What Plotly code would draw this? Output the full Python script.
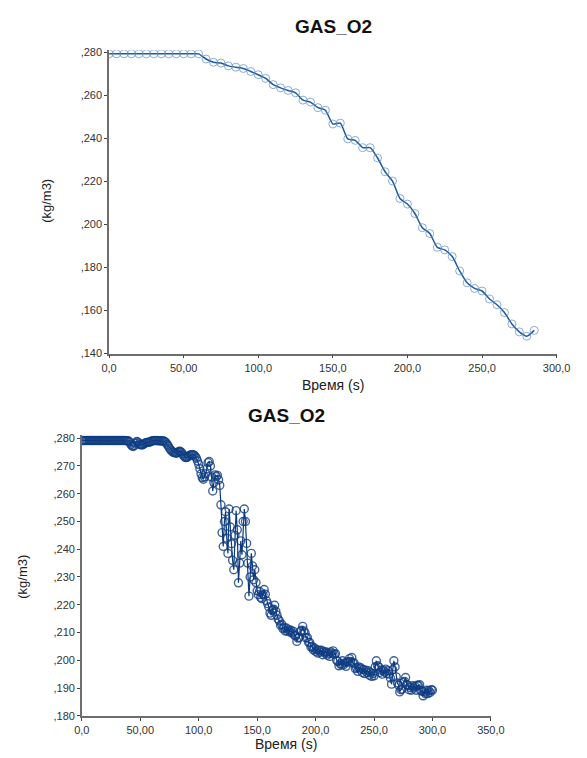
import plotly.graph_objects as go

# ---- upper panel: GAS_O2 density, sampled every 5 s ----
t_upper = list(range(0, 290, 5))
o2_upper = [
    0.2793, 0.2793, 0.2793, 0.2793, 0.2793, 0.2793, 0.2793, 0.2793, 0.2793, 0.2793,
    0.2793, 0.2793, 0.2793, 0.2769, 0.2754, 0.2750, 0.2737, 0.2731, 0.2725, 0.2711,
    0.2696, 0.2679, 0.2650, 0.2635, 0.2623, 0.2612, 0.2578, 0.2569, 0.2543, 0.2531,
    0.2467, 0.2471, 0.2398, 0.2391, 0.2357, 0.2357, 0.2309, 0.2245, 0.2202, 0.2121,
    0.2095, 0.2051, 0.1985, 0.1958, 0.1894, 0.1882, 0.1851, 0.1784, 0.1729, 0.1703,
    0.1691, 0.1654, 0.1627, 0.1591, 0.1538, 0.1501, 0.1481, 0.1508,
]

# ---- lower panel: GAS_O2 density, sampled every 1 s ----
t_lower = list(range(0, 301))
o2_lower = [
    0.2792, 0.2792, 0.2792, 0.2792, 0.2792, 0.2792, 0.2792, 0.2792, 0.2792, 0.2792,
    0.2792, 0.2792, 0.2792, 0.2792, 0.2792, 0.2792, 0.2792, 0.2792, 0.2792, 0.2792,
    0.2792, 0.2792, 0.2792, 0.2792, 0.2792, 0.2792, 0.2792, 0.2792, 0.2792, 0.2792,
    0.2792, 0.2792, 0.2792, 0.2792, 0.2792, 0.2792, 0.2792, 0.2792, 0.2791, 0.2791,
    0.2790, 0.2786, 0.2778, 0.2772, 0.2770, 0.2774, 0.2782, 0.2788, 0.2786, 0.2780,
    0.2777, 0.2776, 0.2776, 0.2779, 0.2782, 0.2784, 0.2785, 0.2786, 0.2786, 0.2788,
    0.2790, 0.2791, 0.2792, 0.2792, 0.2791, 0.2792, 0.2791, 0.2790, 0.2791, 0.2790,
    0.2790, 0.2788, 0.2784, 0.2778, 0.2772, 0.2764, 0.2758, 0.2754, 0.2750, 0.2748,
    0.2747, 0.2746, 0.2749, 0.2752, 0.2753, 0.2750, 0.2744, 0.2738, 0.2733, 0.2730,
    0.2731, 0.2734, 0.2737, 0.2740, 0.2741, 0.2741, 0.2739, 0.2735, 0.2728, 0.2718,
    0.2706, 0.2690, 0.2672, 0.2658, 0.2652, 0.2660, 0.2672, 0.2690, 0.2712, 0.2716,
    0.2700, 0.2660, 0.2610, 0.2640, 0.2668, 0.2662, 0.2666, 0.2650, 0.2630, 0.2560,
    0.2460, 0.2410, 0.2500, 0.2535, 0.2440, 0.2385, 0.2545, 0.2480, 0.2420, 0.2360,
    0.2326, 0.2450, 0.2539, 0.2470, 0.2279, 0.2350, 0.2430, 0.2380, 0.2500, 0.2545,
    0.2500, 0.2421, 0.2350, 0.2231, 0.2300, 0.2385, 0.2340, 0.2290, 0.2326, 0.2280,
    0.2250, 0.2236, 0.2248, 0.2226, 0.2222, 0.2236, 0.2255, 0.2238, 0.2214, 0.2204,
    0.2192, 0.2170, 0.2162, 0.2180, 0.2184, 0.2198, 0.2176, 0.2162, 0.2148, 0.2142,
    0.2126, 0.2130, 0.2114, 0.2118, 0.2106, 0.2116, 0.2104, 0.2110, 0.2102, 0.2108,
    0.2098, 0.2104, 0.2090, 0.2088, 0.2068, 0.2080, 0.2082, 0.2104, 0.2108, 0.2122,
    0.2106, 0.2098, 0.2080, 0.2082, 0.2064, 0.2064, 0.2048, 0.2050, 0.2038, 0.2044,
    0.2032, 0.2038, 0.2026, 0.2036, 0.2030, 0.2036, 0.2020, 0.2032, 0.2026, 0.2030,
    0.2018, 0.2024, 0.2014, 0.2030, 0.2024, 0.2034, 0.2022, 0.2024, 0.2000, 0.1996,
    0.1980, 0.1988, 0.1984, 0.1998, 0.1984, 0.1990, 0.1978, 0.1994, 0.1994, 0.2006,
    0.1996, 0.2010, 0.1990, 0.1990, 0.1970, 0.1974, 0.1960, 0.1976, 0.1968, 0.1972,
    0.1956, 0.1966, 0.1952, 0.1964, 0.1956, 0.1962, 0.1946, 0.1956, 0.1942, 0.1952,
    0.1944, 0.1976, 0.1998, 0.1980, 0.1976, 0.1956, 0.1964, 0.1950, 0.1964, 0.1958,
    0.1968, 0.1952, 0.1962, 0.1950, 0.1936, 0.1914, 0.1966, 0.1998, 0.1976, 0.1940,
    0.1918, 0.1910, 0.1886, 0.1894, 0.1896, 0.1920, 0.1924, 0.1938, 0.1912, 0.1910,
    0.1894, 0.1902, 0.1892, 0.1908, 0.1900, 0.1906, 0.1892, 0.1910, 0.1908, 0.1912,
    0.1890, 0.1890, 0.1872, 0.1886, 0.1880, 0.1892, 0.1880, 0.1890, 0.1884, 0.1894,
    0.1892,
]

# ---- tick labels (decimal comma, leading zero dropped) ----
x_ticks_upper = [0, 50, 100, 150, 200, 250, 300]
x_labels_upper = ["0,0", "50,00", "100,0", "150,0", "200,0", "250,0", "300,0"]
y_ticks_upper = [0.14, 0.16, 0.18, 0.20, 0.22, 0.24, 0.26, 0.28]
y_labels_upper = [",140", ",160", ",180", ",200", ",220", ",240", ",260", ",280"]

x_ticks_lower = [0, 50, 100, 150, 200, 250, 300, 350]
x_labels_lower = ["0,0", "50,00", "100,0", "150,0", "200,0", "250,0", "300,0", "350,0"]
y_ticks_lower = [0.18, 0.19, 0.20, 0.21, 0.22, 0.23, 0.24, 0.25, 0.26, 0.27, 0.28]
y_labels_lower = [",180", ",190", ",200", ",210", ",220", ",230", ",240", ",250",
                  ",260", ",270", ",280"]

TITLE = "GAS_O2"
X_TITLE = "Время (s)"
Y_TITLE = "(kg/m3)"

W, H = 587, 758
FONT = "Liberation Sans, Arial, sans-serif"

fig = go.Figure()

fig.add_trace(go.Scatter(
    x=t_upper, y=o2_upper, mode="lines+markers",
    line=dict(color="#1f5a9e", width=1.5, shape="spline", smoothing=0.6),
    marker=dict(symbol="circle-open", size=8, color="rgba(90,140,200,0.7)",
                line=dict(width=1)),
    xaxis="x", yaxis="y", showlegend=False,
))

fig.add_trace(go.Scatter(
    x=t_lower, y=o2_lower, mode="lines+markers",
    line=dict(color="#0a3a78", width=1.2),
    marker=dict(symbol="circle-open", size=8, color="rgba(15,60,130,0.8)",
                line=dict(width=1.4)),
    xaxis="x2", yaxis="y2", showlegend=False,
))

axis_common = dict(
    showgrid=False, zeroline=False, showline=True, linecolor="#6e6e6e",
    linewidth=1.5, ticks="outside", ticklen=3, tickwidth=1.3, tickcolor="#444",
    tickfont=dict(family=FONT, size=11, color="#333"), fixedrange=True,
)
# companion axes that only draw the inner half of each tick mark
inner_ticks = dict(
    showgrid=False, zeroline=False, showline=False, ticks="inside", ticklen=3,
    tickwidth=1.3, tickcolor="#444", showticklabels=False, fixedrange=True,
)


def px_x(v):
    return v / W


def px_y(v):
    return 1 - v / H


dom_x1 = [px_x(105), px_x(570)]
dom_y1 = [px_y(354.3), px_y(46.8)]
dom_x2 = [px_x(76.7), px_x(501.7)]
dom_y2 = [px_y(721.3), px_y(437.2)]

fig.update_layout(
    width=W, height=H, margin=dict(l=0, r=0, t=0, b=0),
    paper_bgcolor="white", plot_bgcolor="white",
    font=dict(family=FONT),
    xaxis=dict(axis_common, domain=dom_x1, range=[0, 300],
               tickvals=x_ticks_upper, ticktext=x_labels_upper, anchor="y"),
    yaxis=dict(axis_common, domain=dom_y1, range=[0.14, 0.281],
               tickvals=y_ticks_upper, ticktext=y_labels_upper, anchor="x"),
    xaxis2=dict(axis_common, domain=dom_x2, range=[0, 350],
                tickvals=x_ticks_lower, ticktext=x_labels_lower, anchor="y2"),
    yaxis2=dict(axis_common, domain=dom_y2, range=[0.18, 0.281],
                tickvals=y_ticks_lower, ticktext=y_labels_lower, anchor="x2"),
    xaxis3=dict(inner_ticks, overlaying="x", anchor="y", range=[0, 300],
                tickvals=x_ticks_upper),
    yaxis3=dict(inner_ticks, overlaying="y", anchor="x", range=[0.14, 0.281],
                tickvals=y_ticks_upper),
    xaxis4=dict(inner_ticks, overlaying="x2", anchor="y2", range=[0, 350],
                tickvals=x_ticks_lower),
    yaxis4=dict(inner_ticks, overlaying="y2", anchor="x2", range=[0.18, 0.281],
                tickvals=y_ticks_lower),
)

annotations = [
    dict(text=f"<b>{TITLE}</b>", x=px_x(338), y=px_y(23), font=dict(size=19, color="#111")),
    dict(text=X_TITLE, x=px_x(338), y=px_y(386), font=dict(size=14, color="#222")),
    dict(text=Y_TITLE, x=px_x(40), y=px_y(200), textangle=-90, font=dict(size=13, color="#222")),
    dict(text=f"<b>{TITLE}</b>", x=px_x(289), y=px_y(417), font=dict(size=19, color="#111")),
    dict(text=X_TITLE, x=px_x(289), y=px_y(750), font=dict(size=14, color="#222")),
    dict(text=Y_TITLE, x=px_x(15), y=px_y(580), textangle=-90, font=dict(size=13, color="#222")),
]
for a in annotations:
    a.update(xref="paper", yref="paper", showarrow=False, xanchor="center", yanchor="middle")
    a["font"]["family"] = FONT
fig.update_layout(annotations=annotations)

fig.write_html("out.html")
